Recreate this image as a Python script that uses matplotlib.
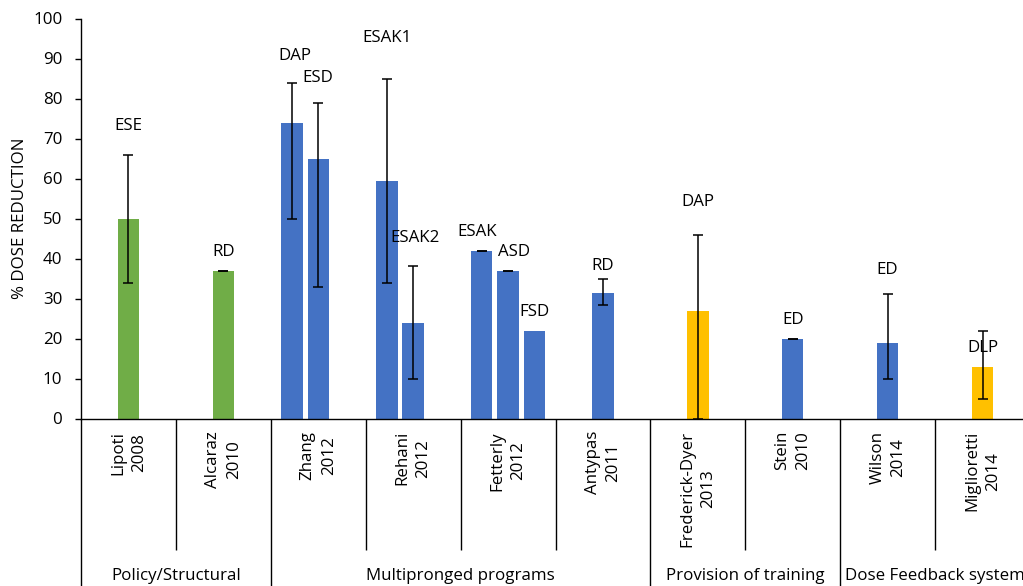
import matplotlib
matplotlib.use("Agg")
import matplotlib.pyplot as plt
import numpy as np

plt.rcParams['font.family'] = ['Open Sans', 'DejaVu Sans']

# ---------------- data ----------------
categories = ["Lipoti\n2008", "Alcaraz\n2010", "Zhang\n2012", "Rehani\n2012",
              "Fetterly\n2012", "Antypas\n2011", "Frederick-Dyer\n2013",
              "Stein\n2010", "Wilson\n2014", "Miglioretti\n2014"]
groups = ["Policy/Structural", "Multipronged programs",
          "Provision of training", "Dose Feedback system"]
group_sizes = [2, 4, 2, 2]

# left series (first bar in a study)
left_vals = [None, None, 74, 59.5, 42, None, None, None, None, None]
left_lo = [None, None, 50, 34, 42, None, None, None, None, None]
left_hi = [None, None, 84, 85, 42, None, None, None, None, None]
left_labels = [None, None, "DAP", "ESAK1", "ESAK", None, None, None, None, None]
left_label_y = [None, None, 90.6, 95, 46.5, None, None, None, None, None]

# middle series
mid_vals = [50, 37, 65, 24, 37, 31.5, 27, 20, 18.8, 13]
mid_lo = [34, 37, 33, 10, 37, 28.5, 0, 20, 10, 5]
mid_hi = [66, 37, 79, 38.2, 37, 35, 46, 20, 31.2, 22]
mid_labels = ["ESE", "RD", "ESD", "ESAK2", "ASD", "RD", "DAP", "ED", "ED", "DLP"]
mid_label_y = [73.1, 41.7, 85.2, 45, 41.6, 38, 54, 24.6, 37, 17.7]

# right series
right_vals = [None, None, None, None, 22, None, None, None, None, None]
right_labels = [None, None, None, None, "FSD", None, None, None, None, None]
right_label_y = [None, None, None, None, 26.6, None, None, None, None, None]

GREEN = "#70AD47"
BLUE = "#4472C4"
GOLD = "#FFC000"
mid_colors = [GREEN, GREEN, BLUE, BLUE, BLUE, BLUE, GOLD, BLUE, BLUE, GOLD]

yticks = list(range(0, 101, 10))

# ---------------- figure ----------------
W, H = 1023, 586
fig = plt.figure(figsize=(W / 100, H / 100), dpi=100)
ax_left, ax_right = 81, 1030
ax_top, ax_bot = 18.5, 418.5
ax = fig.add_axes([ax_left / W, (H - ax_bot) / H,
                   (ax_right - ax_left) / W, (ax_bot - ax_top) / H])

n = len(categories)
x = np.arange(n)
step = 0.277
bw = 0.225
fs = 12.2

def draw_series(vals, offset, colors, lo=None, hi=None, labels=None, label_y=None, dx=None):
    for i, v in enumerate(vals):
        if v is None:
            continue
        xi = x[i] + offset
        c = colors[i] if isinstance(colors, list) else colors
        ax.bar(xi, v, width=bw, color=c, zorder=2)
        if lo is not None and lo[i] is not None:
            ax.errorbar(xi, v, yerr=[[v - lo[i]], [hi[i] - v]], fmt='none',
                        ecolor='black', elinewidth=1.1, capsize=3.6,
                        capthick=1.1, zorder=3, clip_on=True)
        if labels is not None and labels[i] is not None:
            shift = 0 if dx is None else dx.get(labels[i], 0)
            ax.annotate(labels[i], (xi, label_y[i]), xytext=(shift, 0),
                        textcoords='offset pixels', ha='center', va='center',
                        fontsize=fs, color='black', zorder=4)

draw_series(left_vals, -step, BLUE, left_lo, left_hi, left_labels, left_label_y,
            dx={"DAP": 3, "ESAK": -5})
draw_series(mid_vals, 0.0, mid_colors, mid_lo, mid_hi, mid_labels, mid_label_y,
            dx={"ASD": 6, "ESAK2": 2})
draw_series(right_vals, step, BLUE, None, None, right_labels, right_label_y)

ax.set_xlim(-0.5, n - 0.5)
ax.set_ylim(0, 100)
ax.set_yticks(yticks)
ax.set_yticklabels([str(t) for t in yticks], fontsize=fs)
ax.tick_params(axis='y', direction='out', length=4, width=1.0, pad=9.5, color='black')
ax.set_xticks([])
for s in ['top', 'right']:
    ax.spines[s].set_visible(False)
for s in ['left', 'bottom']:
    ax.spines[s].set_linewidth(1.0)
    ax.spines[s].set_color('black')
    ax.spines[s].set_zorder(5)

fig.text(20 / W, (H - 218.5) / H, "% DOSE REDUCTION", rotation=90,
         ha='center', va='center', fontsize=fs)

# multi-level category axis
trans = ax.get_xaxis_transform()
ax_h = ax_bot - ax_top
inner_bottom = -(550 - ax_bot) / ax_h
outer_bottom = -(600 - ax_bot) / ax_h
label_top = -(431 - ax_bot) / ax_h
group_label_y = -(576.5 - ax_bot) / ax_h

for i, cat in enumerate(categories):
    ax.text(x[i], label_top, cat, transform=trans, rotation=90,
            ha='center', va='top', multialignment='center', fontsize=fs,
            linespacing=1.4, clip_on=False)

group_edges = [-0.5] + list(np.cumsum(group_sizes) - 0.5)
for b in np.arange(n + 1) - 0.5:
    is_group = any(abs(b - g) < 1e-9 for g in group_edges)
    ax.plot([b, b], [0, outer_bottom if is_group else inner_bottom],
            transform=trans, color='black', lw=1.0, clip_on=False,
            solid_capstyle='butt')

for gi, gname in enumerate(groups):
    c = (group_edges[gi] + group_edges[gi + 1]) / 2
    ax.text(c, group_label_y, gname, transform=trans, ha='center', va='center',
            fontsize=fs, clip_on=False)

fig.savefig("out.png", dpi=100)
